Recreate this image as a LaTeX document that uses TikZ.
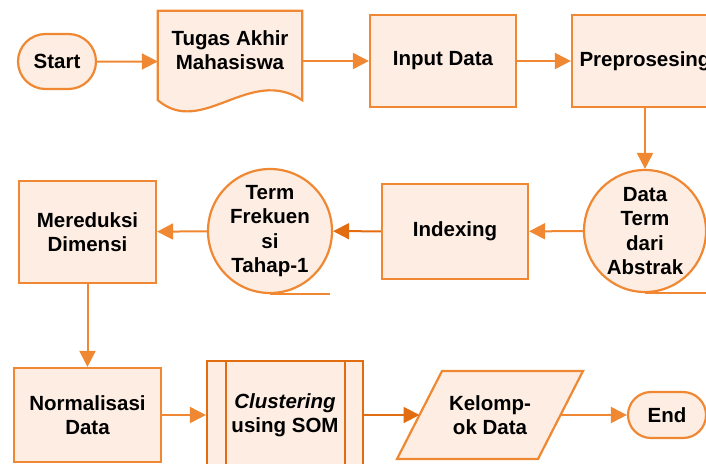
\documentclass[tikz,border=0pt]{standalone}
\usepackage{fontspec}
\setmainfont{Liberation Sans}
\usepackage{tikz}
\usetikzlibrary{positioning,shapes,arrows.meta,backgrounds}
\definecolor{flowline}{RGB}{240,135,50}
\definecolor{flowdark}{RGB}{226,108,16}
\definecolor{flowfill}{RGB}{253,237,226}

\begin{document}
\begin{tikzpicture}[x=1pt,y=1pt,>={Triangle[length=16pt,width=16pt]},
                    font=\bfseries\fontsize{20.5}{24.5}\selectfont]
  \tikzstyle{box}=[draw=flowline,fill=flowfill,line width=2.2pt,align=center,inner sep=2pt]
  \tikzstyle{tailline}=[draw=flowline,line width=2.2pt]
  \tikzstyle{flow}=[->,draw=flowline,fill=flowline,line width=2pt]
  \tikzstyle{flowdk}=[->,draw=flowdark,fill=flowdark,line width=2pt]

  \useasboundingbox (0,0) rectangle (706,-463);

  % first row
  \node[box,rounded rectangle,minimum width=82pt,minimum height=55pt] (start) at (57,-61.5) {Start};
  \node[align=center,minimum width=144pt,minimum height=78pt] (tugas) at (230,-50) {Tugas Akhir\\Mahasiswa};
  \node[box,minimum width=146pt,minimum height=92pt] (input) at (443,-61) {Input Data};
  \node[box,minimum width=146pt,minimum height=92pt] (prep) at (645,-61) {Preprosesing};

  % second row
  \node[box,circle,inner sep=0pt,minimum size=122pt] (dataterm) at (645,-231) {Data\\Term\\dari\\Abstrak};
  \node[box,minimum width=146pt,minimum height=95pt] (indexing) at (455,-231.5) {Indexing};
  \node[box,circle,inner sep=0pt,minimum size=124pt] (termfrek) at (270,-231) {Term\\Frekuen\\si\\Tahap-1};
  \node[box,minimum width=137pt,minimum height=102pt] (mereduksi) at (87.5,-232) {Mereduksi\\Dimensi};

  % third row
  \node[box,minimum width=147pt,minimum height=94pt] (normalisasi) at (87.5,-415) {Normalisasi\\Data};
  \node[box,draw=flowdark,minimum width=156pt,minimum height=108pt] (som) at (285,-415) {\textit{Clustering}\\using SOM};
  \node[align=center,outer sep=0pt,minimum width=141pt,minimum height=88pt] (kelompok) at (490,-415) {Kelomp-\\ok Data};
  \node[box,rounded rectangle,minimum width=82pt,minimum height=46pt] (stop) at (667,-415) {End};

  % document shape, parallelogram and extra strokes
  \begin{scope}[on background layer]
    \draw[box] (tugas.north west) -- (tugas.north east) -- ([yshift=-11pt]tugas.south east)
      .. controls (250,-65) and (202,-138) .. ([yshift=-11pt]tugas.south west) -- cycle;
    \draw[box] ([xshift=22.5pt]kelompok.north west) -- ([xshift=22.5pt]kelompok.north east)
      -- ([xshift=-22.5pt]kelompok.south east) -- ([xshift=-22.5pt]kelompok.south west) -- cycle;
  \end{scope}
  \draw[tailline,draw=flowdark] ([xshift=20pt]som.north west) -- ([xshift=20pt]som.south west);
  \draw[tailline,draw=flowdark] ([xshift=-19pt]som.north east) -- ([xshift=-19pt]som.south east);
  \draw[tailline] (termfrek.south) -- ++(60,0);
  \draw[tailline] (dataterm.south) -- ++(70,0);

  % connectors
  \draw[flow] (start) -- (start -| tugas.west);
  \draw[flow] (tugas.east |- input) -- (input);
  \draw[flow] (input) -- (prep);
  \draw[flow] (prep) -- (dataterm);
  \draw[flow] (dataterm) -- (indexing);
  \draw[flowdk] (indexing) -- (termfrek);
  \draw[flow] (termfrek) -- (mereduksi);
  \draw[flow] (mereduksi) -- (normalisasi);
  \draw[flow] (normalisasi) -- (som);
  \draw[flowdk] (som) -- (kelompok);
  \draw[flow] (kelompok) -- (stop);
\end{tikzpicture}
\end{document}
